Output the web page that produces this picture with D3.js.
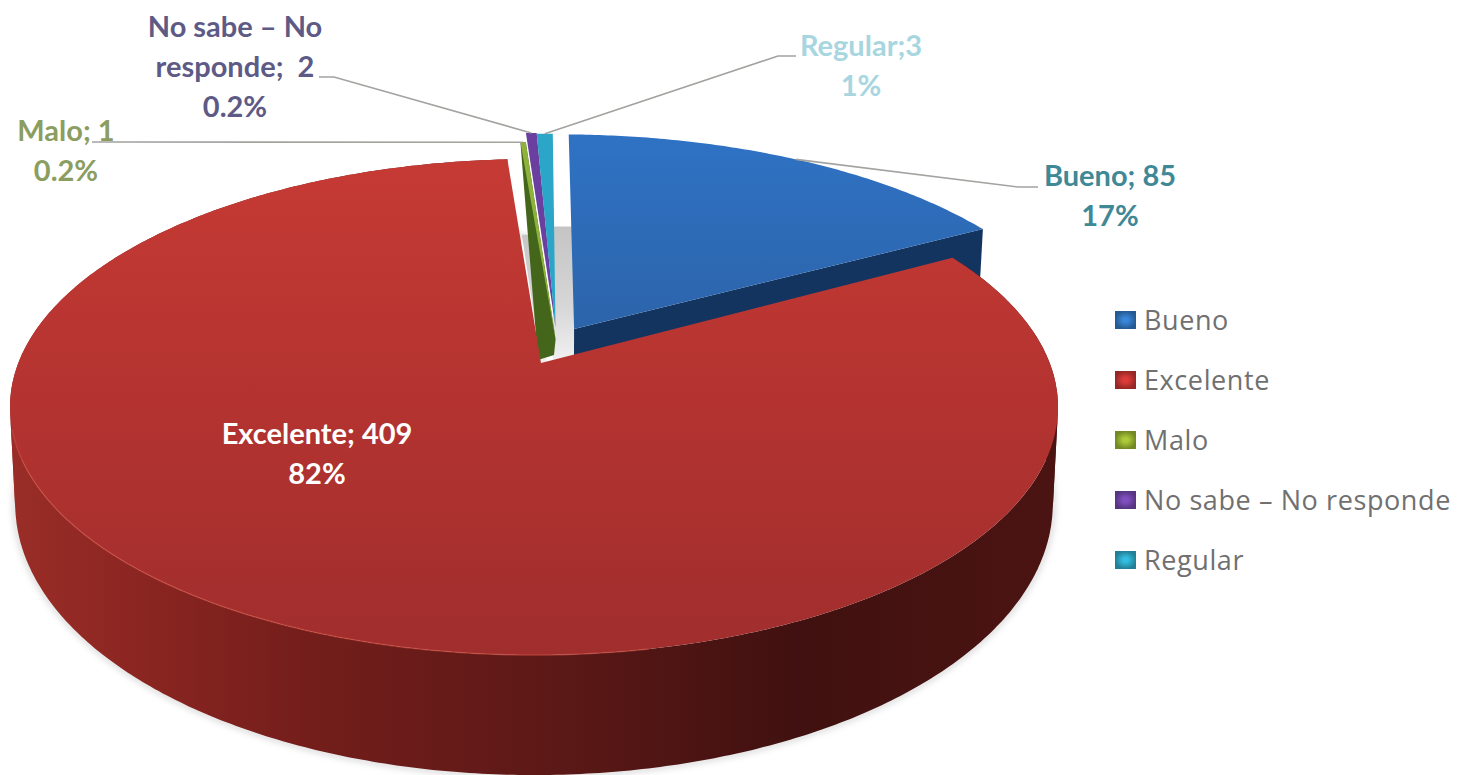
<!DOCTYPE html>
<html lang="es">
<head>
<meta charset="utf-8">
<script src="https://cdn.jsdelivr.net/npm/d3@7"></script>
<style>
  html, body { margin: 0; padding: 0; background: #fff; }
  svg { display: block; }
  .lbl { font-family: Lato, "Open Sans", sans-serif; font-weight: 700; font-size: 29px; text-anchor: middle; }
  .leg { font-family: "Open Sans", sans-serif; font-weight: 400; font-size: 27px; letter-spacing: 0.6px; fill: #707070; }
</style>
</head>
<body>
<svg id="chart" width="1464" height="775"></svg>
<script>
// Survey answers
const categories = ["Bueno", "Excelente", "Malo", "No sabe – No responde", "Regular"];
const counts = [85, 409, 1, 2, 3];
const shareLabels = ["17%", "82%", "0.2%", "0.2%", "1%"];
const labelLines = [["Bueno; 85"], ["Excelente; 409"], ["Malo; 1"], ["No sabe – No", "responde;  2"], ["Regular;3"]];

// Appearance
const topColors = ["#2f6db8", "#b53330", "#8fb23c", "#6a3f9f", "#2ba6c8"];
const wallColors = ["#12345f", "#5e1917", "#44661a", "#463a8e", "#2595b8"];
const keyColors = ["#2f70b5", "#b8322f", "#8fa92e", "#6a42a0", "#2b9dbb"];
const labelColors = ["#3f8896", "#ffffff", "#8b9d60", "#5e5a86", "#a8d6e0"];
const slideOut = [[0.066, -0.146], [0, 0], [0.029, -0.10], [0.029, -0.155], [0.029, -0.15]];
const sideStretch = [1.025, 1, 1, 1, 1];
const labelAnchors = [[1110, 186], [317, 444], [66, 141], [235, 37], [861, 56]];
const elbows = [[1038, 187, 1018, 187], null, [92, 142, 112, 142], [319, 77, 334, 77], [796, 56, 778, 56]];

const svg = d3.select("#chart");
const defs = svg.append("defs");

// Perspective of the disc: ellipse on screen, with the disc centre pushed up and back
const ell = { cx: 534, cy: 407, rx: 524, ry: 248 };
const centre = [7 / ell.rx, -44 / ell.ry];
const beta2 = centre[0] ** 2 + centre[1] ** 2;
const invGamma = Math.sqrt(1 - beta2);
const dir = centre.map(c => c / Math.sqrt(beta2));

function project(u, v) {
  const along = u * dir[0] + v * dir[1];
  const denom = 1 + u * centre[0] + v * centre[1];
  const px = centre[0] + along * dir[0] + (u - along * dir[0]) * invGamma;
  const py = centre[1] + along * dir[1] + (v - along * dir[1]) * invGamma;
  return [ell.cx + ell.rx * px / denom, ell.cy + ell.ry * py / denom];
}
// Lower face of the slab
const lowerX = d3.scaleLinear().domain([ell.cx - 1, ell.cx + 1]).range([ell.cx - 0.99, ell.cx + 0.99]);
const lowerY = d3.scaleLinear().domain([ell.cy, ell.cy + 1]).range([504, 504 + 1.093]);
const lower = p => [lowerX(p[0]), lowerY(p[1])];

const arcs = d3.pie().sort(null)(counts);
const rimPoint = (i, angle) => project(sideStretch[i] * Math.sin(angle) + slideOut[i][0], -Math.cos(angle) + slideOut[i][1]);
const apex = i => project(slideOut[i][0], slideOut[i][1]);
const rim = (i, step = 0.01) => {
  const a = arcs[i], n = Math.max(2, Math.ceil((a.endAngle - a.startAngle) / step));
  return d3.range(n + 1).map(k => rimPoint(i, a.startAngle + (a.endAngle - a.startAngle) * k / n));
};
const poly = pts => "M" + pts.map(p => p[0].toFixed(1) + "," + p[1].toFixed(1)).join("L") + "Z";

// Gradients
function linear(id, x1, y1, x2, y2, stops) {
  const g = defs.append("linearGradient").attr("id", id).attr("gradientUnits", "userSpaceOnUse")
    .attr("x1", x1).attr("y1", y1).attr("x2", x2).attr("y2", y2);
  stops.forEach(s => g.append("stop").attr("offset", s[0]).attr("stop-color", s[1]));
}
linear("redTop", 0, 160, 0, 655, [[0, "#c63a34"], [0.5, "#b33330"], [1, "#a02e2d"]]);
linear("redWall", 10, 0, 1058, 0, [[0, "#9a2d27"], [0.13, "#8a2521"], [0.28, "#741e1b"], [0.5, "#5e1917"], [0.75, "#401110"], [1, "#4b1412"]]);
linear("blueTop", 0, 135, 0, 330, [[0, "#2f72c4"], [1, "#2c64aa"]]);
linear("gapShade", 0, 225, 0, 358, [[0, "#c4c4c4"], [0.6, "#d6d6d6"], [1, "#efefef"]]);
const blur = defs.append("filter").attr("id", "soft").attr("x", "-5%").attr("y", "-5%").attr("width", "110%").attr("height", "110%");
blur.append("feGaussianBlur").attr("stdDeviation", 3);
categories.forEach((c, i) => {
  const g = defs.append("radialGradient").attr("id", "key" + i);
  g.append("stop").attr("offset", "0.25").attr("stop-color", d3.color(keyColors[i]).brighter(0.5));
  g.append("stop").attr("offset", "1").attr("stop-color", d3.color(keyColors[i]).darker(0.6));
});

const plot = svg.append("g");

// Soft shadow hugging the base of the slab
const redRim = rim(1);
plot.append("path").attr("d", poly(redRim.map(lower))).attr("fill", "none")
  .attr("stroke", "#8a8a8a").attr("stroke-width", 5).attr("opacity", 0.35).attr("filter", "url(#soft)");

// Shaded gap between the slices around the pie centre
const redApex = apex(1), blueApex = apex(0);
const regEdge = rimPoint(4, arcs[4].endAngle), malEdge = rimPoint(2, arcs[2].startAngle);
const gapTop = regEdge[1] + (redApex[1] - regEdge[1]) * 0.405;
plot.append("path").attr("fill", "url(#gapShade)")
  .attr("d", poly([[regEdge[0], gapTop], [blueApex[0], gapTop], [blueApex[0], redApex[1] + 5], [regEdge[0], redApex[1] + 5]]));
const redEnd = rimPoint(1, arcs[1].endAngle);
const sideTop = redEnd[1] + (redApex[1] - redEnd[1]) * 0.37;
plot.append("path").attr("fill", "url(#gapShade)")
  .attr("d", poly([[redEnd[0] + (redApex[0] - redEnd[0]) * 0.37 + 2, sideTop], [malEdge[0] + 10, sideTop], [redApex[0] + 6, redApex[1]], [redApex[0], redApex[1]]]));

// Bueno slice: inner wall, then upper face
const bueno = rim(0);
const buenoEnd = bueno[bueno.length - 1];
plot.append("path").attr("fill", wallColors[0])
  .attr("d", poly([blueApex, buenoEnd, lower(buenoEnd), lower(blueApex)]));
plot.append("path").attr("fill", "url(#blueTop)").attr("d", poly([blueApex, ...bueno]));

// The three thin slices: walls first, then upper faces
plot.append("path").attr("fill", wallColors[2])
  .attr("d", poly([malEdge, rimPoint(2, arcs[2].endAngle), apex(2), [redApex[0] + 13, redApex[1] - 8], [redApex[0] - 3, redApex[1] - 3]]));
[3, 4].forEach(i => {
  plot.append("path").attr("fill", topColors[i]).attr("d", poly([apex(i), ...rim(i, 0.002)]));
});
plot.append("path").attr("fill", topColors[2]).attr("d", poly([apex(2), ...rim(2, 0.002)]));

// Excelente slice: outer wall, facets grouped by winding so that they never cancel out,
// then the upper face with a lit edge
const facets = d3.pairs(redRim).map(([a, b]) => [a, b, lower(b), lower(a)]);
const winding = q => Math.sign(d3.polygonArea(q));
[1, -1].forEach(sign => {
  plot.append("path").attr("fill", "url(#redWall)")
    .attr("d", facets.filter(q => winding(q) === sign).map(poly).join(""));
});
plot.append("path").attr("fill", "url(#redTop)").attr("d", poly([redApex, ...redRim]));
const litEdge = redRim.filter(p => p[1] > ell.cy + 20 && p[0] < ell.cx + 120);
plot.append("path").attr("fill", "none").attr("stroke", "#cf5044").attr("stroke-width", 1.5).attr("opacity", 0.55)
  .attr("d", d3.line()(litEdge));

// Leader lines
const leaderTargets = [2, 3, 4, 0].map(i => {
  const mid = (arcs[i].startAngle + arcs[i].endAngle) / 2;
  return { i, target: rimPoint(i, mid) };
});
plot.selectAll("path.leader").data(leaderTargets).join("path").attr("class", "leader")
  .attr("fill", "none").attr("stroke", "#a3a3a0").attr("stroke-width", 1.6)
  .attr("d", d => {
    const e = elbows[d.i];
    return d3.line()([[e[0], e[1]], [e[2], e[3]], d.target]);
  });

// Data labels
const labels = svg.append("g");
categories.forEach((c, i) => {
  const [x, y] = labelAnchors[i];
  const lines = [...labelLines[i], shareLabels[i]];
  lines.forEach((t, k) => {
    labels.append("text").attr("class", "lbl").attr("x", x).attr("y", y + k * 40)
      .attr("fill", labelColors[i]).style("white-space", "pre").text(t);
  });
});

// Legend
const legY = d3.scalePoint().domain(categories).range([320, 560]);
const legend = svg.append("g").selectAll("g").data(categories).join("g")
  .attr("transform", d => `translate(1115,${legY(d)})`);
legend.append("rect").attr("x", 0).attr("y", -9).attr("width", 21).attr("height", 18)
  .attr("fill", (d, i) => `url(#key${i})`);
legend.append("text").attr("class", "leg").attr("x", 29).attr("y", 10).text(d => d);
</script>
</body>
</html>
